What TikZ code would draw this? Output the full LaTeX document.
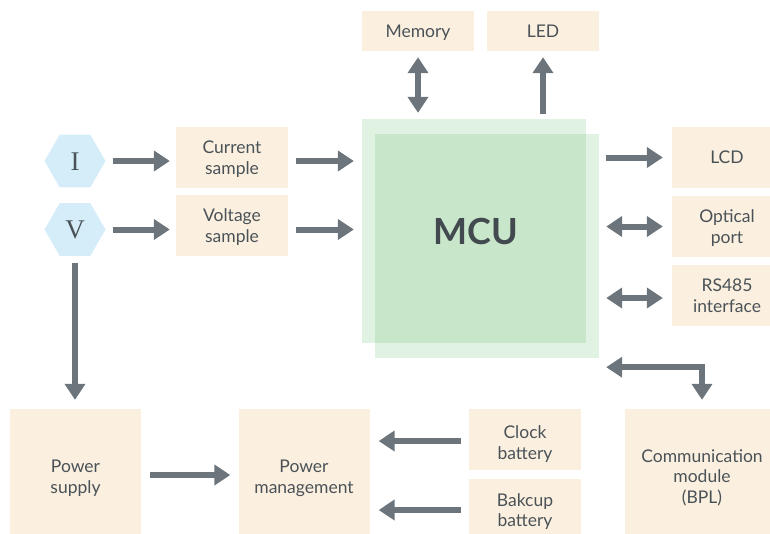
\documentclass[tikz,border=0pt]{standalone}
\usepackage{fontspec}
\setmainfont{Lato}
\newfontfamily\hexfont{Liberation Serif}
\usetikzlibrary{arrows.meta,shapes.geometric,calc}
\definecolor{cream}{HTML}{FBF0DF}
\definecolor{hexblue}{HTML}{D4EDF9}
\definecolor{arrgray}{HTML}{6D757C}
\definecolor{mculight}{HTML}{E0F2E1}
\definecolor{mcudark}{HTML}{C8E6CA}
\definecolor{txt}{HTML}{4A5258}
\tikzset{
  box/.style={fill=cream, inner sep=0pt, align=center, text=txt,
    text height=12.5pt, text depth=0pt,
    font=\fontsize{17.5}{20.5}\selectfont},
  twolines/.style={text height=33pt},
  threelines/.style={text height=53.5pt},
  hexa/.style={regular polygon, regular polygon sides=6, fill=hexblue,
    minimum size=61pt, inner sep=0pt, text=txt, text height=18pt, text depth=0pt,
    font=\hexfont\fontsize{27}{30}\selectfont},
  arr/.style={draw=arrgray, line width=6pt, -{Triangle[width=20pt,length=16pt]}},
  darr/.style={draw=arrgray, line width=6pt, {Triangle[width=20pt,length=16pt]}-{Triangle[width=20pt,length=16pt]}},
}
\begin{document}
\begin{tikzpicture}[x=1pt,y=-1pt]
\useasboundingbox (0,0) rectangle (770,533);
\clip (0,0) rectangle (770,533);
% hexagons
\node[hexa] (I) at (75,161) {I};
\node[hexa] (V) at (75,229.5) {V};
% sample boxes
\node[box, twolines, minimum width=112pt, minimum height=61pt] (cur) at (232,157.5) {Current\\sample};
\node[box, twolines, minimum width=112pt, minimum height=61pt] (vol) at (232,225.5) {Voltage\\sample};
% MCU
\node[fill=mculight, inner sep=0pt, minimum width=224pt, minimum height=224pt] (mcu) at (474,231) {};
\node[fill=mculight, inner sep=0pt, minimum width=224pt, minimum height=224pt] (mcu2) at (487,246) {};
\fill[mcudark] (mcu2.north west) rectangle (mcu.south east);
\node[text=txt!90!black, font=\bfseries\fontsize{36}{40}\selectfont, inner sep=0pt] (mcutext) at (475.5,231.7) {MCU};
% top boxes
\node[box, minimum width=112pt, minimum height=40pt] (mem) at (418,31) {Memory};
\node[box, minimum width=112pt, minimum height=40pt] (led) at (543,31) {LED};
% right boxes
\node[box, minimum width=110pt, minimum height=61pt] (lcd) at (727,157.5) {LCD};
\node[box, twolines, minimum width=110pt, minimum height=61pt] (opt) at (727,226.5) {Optical\\port};
\node[box, twolines, minimum width=110pt, minimum height=61pt] (rs) at (727,295.5) {RS485\\interface};
% bottom boxes
\node[box, twolines, minimum width=131pt, minimum height=135pt] (ps) at (75.5,476.5) {Power\\supply};
\node[box, twolines, minimum width=131pt, minimum height=135pt] (pm) at (304,476.5) {Power\\management};
\node[box, twolines, text height=39pt, minimum width=112pt, minimum height=61pt] (clk) at (525,439.5) {Clock\\battery};
\node[box, twolines, minimum width=112pt, minimum height=62pt] (bak) at (525,510) {Bakcup\\battery};
\node[box, threelines, minimum width=154pt, minimum height=135pt] (com) at (702,476.5) {Communication\\module\\(BPL)};
% arrows: inputs
\draw[arr, shorten <=7pt, shorten >=6pt] (I.east) -- (I.east -| cur.west);
\draw[arr, shorten <=7pt, shorten >=6pt] (V.east) -- (V.east -| vol.west);
\draw[arr, shorten <=8pt, shorten >=8pt] (I.east -| cur.east) -- (I.east -| mcu.west);
\draw[arr, shorten <=8pt, shorten >=8pt] (V.east -| vol.east) -- (V.east -| mcu.west);
% top
\draw[darr, shorten <=6pt, shorten >=6pt] (mem.south) -- (mem.south |- mcu.north);
\draw[arr, shorten <=5pt, shorten >=6pt] (led.south |- mcu.north) -- (led.south);
% right
\draw[arr, shorten <=7pt, shorten >=9pt] (lcd.west -| mcu2.east) -- (lcd.west);
\draw[darr, shorten <=7pt, shorten >=9pt] (opt.west -| mcu2.east) -- (opt.west);
\draw[darr, shorten <=7pt, shorten >=9pt] ([yshift=-2.5pt]rs.west -| mcu2.east) -- ([yshift=-2.5pt]rs.west);
\draw[darr, shorten <=7pt, shorten >=9pt] ([yshift=-9pt]mcu2.south east) -| (com.north);
% bottom
\draw[arr, shorten <=7pt, shorten >=9pt] (V.south) -- (ps.north -| V.south);
\draw[arr, shorten <=9pt, shorten >=8pt] ([yshift=1.5pt]ps.east) -- ([yshift=1.5pt]pm.east -| pm.west);
\draw[arr, shorten <=8pt, shorten >=9pt] (clk.west |- 0,441) -- (pm.east |- 0,441);
\draw[arr, shorten <=8pt, shorten >=9pt] (bak.west) -- (bak.west -| pm.east);
\end{tikzpicture}
\end{document}
